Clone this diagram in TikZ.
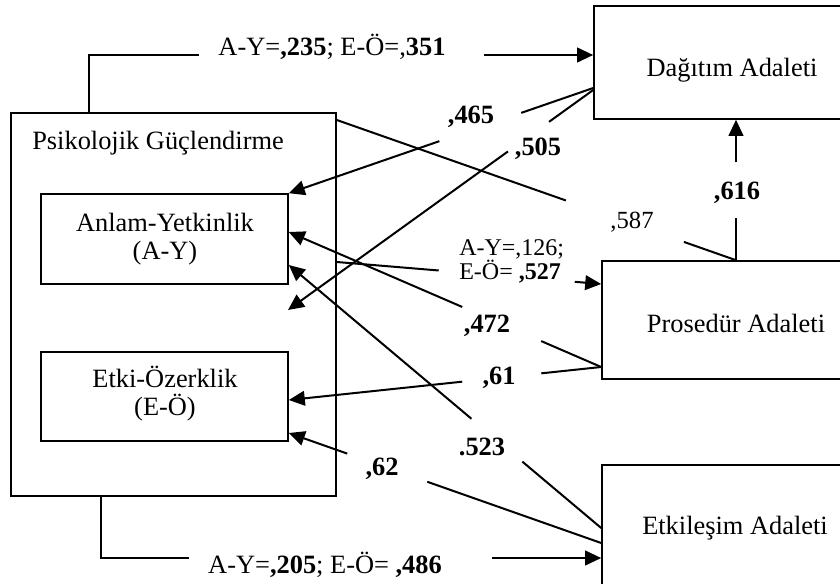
\documentclass[tikz,border=0pt]{standalone}
\usepackage{fontspec}
\setmainfont{Liberation Serif}
\usetikzlibrary{arrows.meta,fit}

\tikzset{
  box/.style={draw, line width=1.2pt, inner sep=0pt},
  link/.style={line width=1.5pt},
  arr/.style={link, -{Triangle[length=12pt,width=11pt]}},
  gapat/.style 2 args={dash pattern=on #1pt off #2pt on 4000pt},
  txt/.style={font=\fontsize{19.8}{21}\selectfont, inner sep=0pt, anchor=base, align=center},
  num/.style={txt, font=\fontsize{19.8}{21}\selectfont\bfseries},
}

\begin{document}
\begin{tikzpicture}[x=0.75pt,y=-0.75pt]
\clip (0,0) rectangle (840,583);

% boxes
\node[box, fit={(11,113) (336,496)}] (pg) {};
\node[box, fit={(41,194) (288,284)}] (ay) {};
\node[box, fit={(41,352) (288,441)}] (eo) {};
\node[box, fit={(594,6) (870,119)}] (dag) {};
\node[box, fit={(602,261) (870,379)}] (pro) {};
\node[box, fit={(602,465) (870,589)}] (etk) {};
\coordinate (pgmid) at (288,310);

% box titles
\node[txt, anchor=base west] (pgname) at (32,149) {Psikolojik Güçlendirme};
\node[txt] (aytxt) at (165,259) {Anlam-Yetkinlik\\(A-Y)};
\node[txt] (eotxt) at (165,415) {Etki-Özerklik\\(E-Ö)};
\node[txt] (dagtxt) at (732,76) {Dağıtım Adaleti};
\node[txt] (protxt) at (736,332) {Prosedür Adaleti};
\node[txt] (etktxt) at (735,534) {Etkileşim Adaleti};

% paths, each broken where its coefficient is printed
\draw[arr, gapat={125.25}{213.75}] (89,0 |- pg.north) |- (dag.west |- 0,55);
\draw[arr, gapat={111.75}{227.25}] (101,0 |- pg.south) |- (etk.west |- 0,558);
\draw[arr, gapat={57.1}{65.0}] (dag.west |- 0,88) -- (ay.north east);
\draw[arr, gapat={40.8}{38.0}] (dag.west |- 0,90) -- (pgmid);
\draw[link, gapat={182.1}{93.8}] (pg.east |- 0,120) -- (pro.north);
\draw[arr, gapat={31.5}{42.0}] (pro.north) -- (pro.north |- dag.south);
\draw[arr, gapat={76.7}{102.4}] (pg.east |- 0,262) -- (pro.west |- 0,284);
\draw[arr, gapat={49.0}{64.5}] (pro.west |- 0,367) -- (ay.east |- 0,232);
\draw[arr, gapat={45.2}{59.6}] (pro.west |- 0,367) -- (eo.east |- 0,400);
\draw[arr, gapat={77.3}{49.9}] (etk.west |- 0,528) -- (ay.east |- 0,265);
\draw[arr, gapat={138.3}{63.6}] (etk.west |- 0,543) -- (eo.east |- 0,433);

% coefficients
\node[txt] (lA) at (332,55) {A-Y=\textbf{,235}; E-Ö=,\textbf{351}};
\node[txt] (lB) at (325,573) {A-Y=\textbf{,205}; E-Ö= \textbf{,486}};
\node[num] (lC) at (471,123) {,465};
\node[num] (lD) at (538,155) {,505};
\node[txt, font=\fontsize{18.5}{21}\selectfont] (lE) at (632,228) {,587};
\node[num] (lF) at (737,199) {,616};
\node[txt, anchor=base west, align=left, font=\fontsize{18}{18}\selectfont] (lG) at (459,279) {A-Y=,126;\\E-Ö= \textbf{,527}};
\node[num] (lH) at (487,332) {,472};
\node[num] (lI) at (499,384) {,61};
\node[num] (lJ) at (482,455) {.523};
\node[num] (lK) at (382,475) {,62};
\end{tikzpicture}
\end{document}
